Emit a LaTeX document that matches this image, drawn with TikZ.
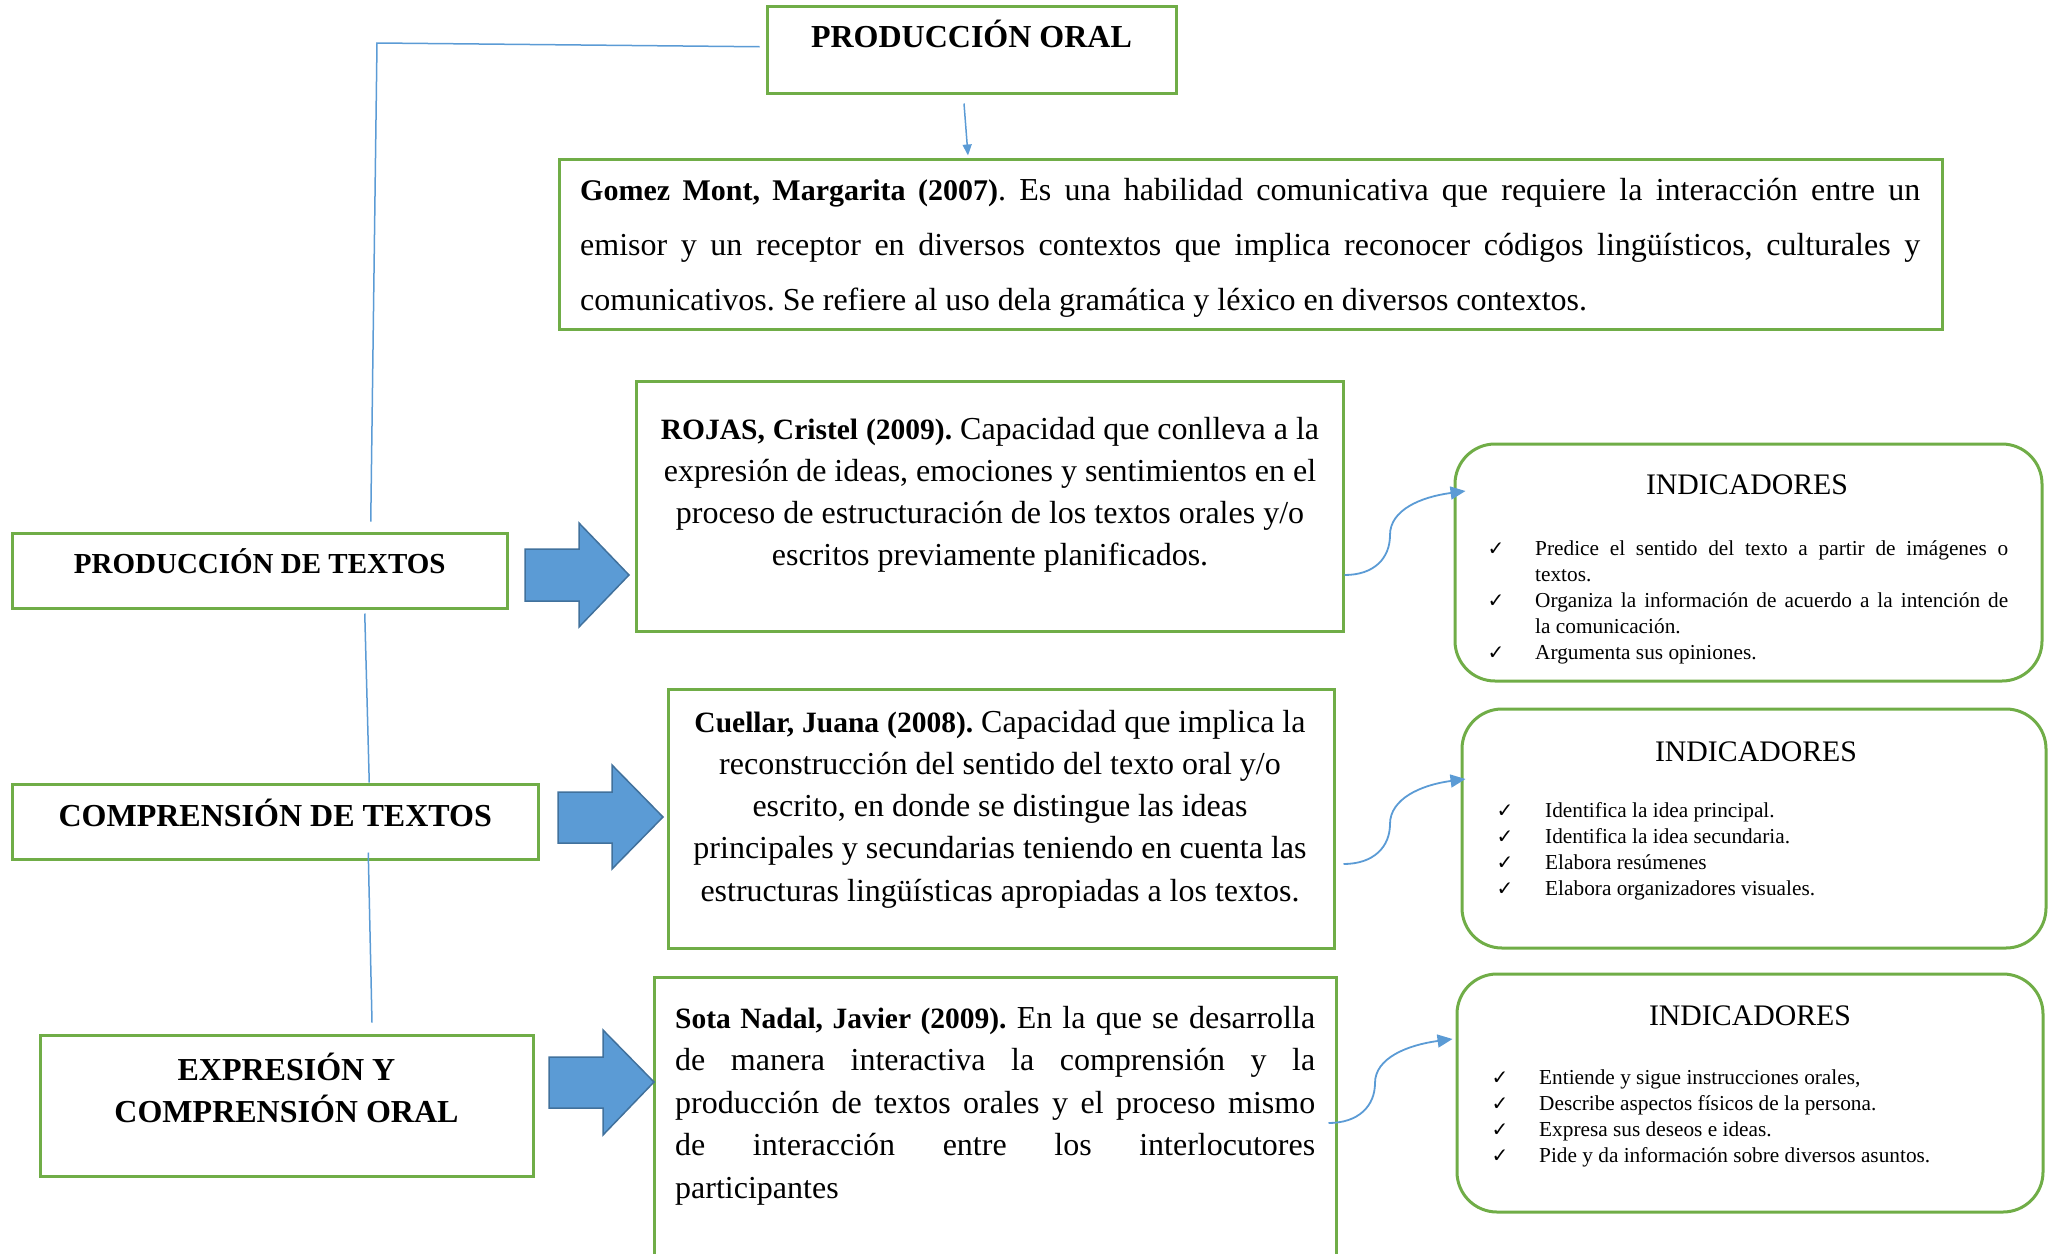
\documentclass[tikz,border=0pt]{standalone}
\usepackage{fontspec}
\setmainfont{Liberation Serif}
\newfontfamily\ckfont{DejaVu Sans}
\usetikzlibrary{arrows.meta}
\definecolor{grn}{HTML}{70AD47}
\definecolor{blu}{HTML}{5B9BD5}
\definecolor{bluedge}{HTML}{41719C}
\newcommand\resetsp{\spaceskip=0pt\xspaceskip=0pt\frenchspacing}
\newcommand\rigidsp{\spaceskip=\fontdimen2\font\xspaceskip=\fontdimen2\font\frenchspacing}
\newcommand\citebold[1]{{\fontsize{29.5}{42}\selectfont\bfseries #1}}
\tikzset{
  frame/.style={draw=grn, line width=3pt, inner sep=0pt},
  rbox/.style={frame, rounded corners=40pt},
  conn/.style={draw=blu, line width=1.5pt},
  curv/.style={draw=blu, line width=1.8pt, -{Triangle[length=15pt,width=13pt]}},
  blockarrow/.style={fill=blu, draw=bluedge, line width=1.5pt, line join=miter},
  title/.style={inner sep=0pt, anchor=base},
  body/.style={inner sep=0pt, anchor=base, font=\fontsize{32}{42.3}\selectfont},
  listtxt/.style={inner sep=0pt, anchor=base west, align=left, font=\fontsize{21.3}{26}\selectfont},
  ck/.style={inner sep=0pt, anchor=base, font=\ckfont\fontsize{20}{20}\selectfont},
  indt/.style={inner sep=0pt, anchor=base, font=\fontsize{29.8}{36}\selectfont}
}
\begin{document}
\begin{tikzpicture}[x=1pt,y=-1pt]
\useasboundingbox (0,0) rectangle (2048,1253);

% ---- frames ----
\node[frame, minimum width=409pt, minimum height=86.5pt] (po) at (971.5,49.75) {};
\node[frame, minimum width=1383pt, minimum height=170pt] (gomez) at (1250.5,244) {};
\node[frame, minimum width=494.5pt, minimum height=75pt] (pt) at (259.75,570.5) {};
\node[frame, minimum width=525.5pt, minimum height=75pt] (ct) at (275.25,821.5) {};
\node[frame, minimum width=493pt, minimum height=141pt] (ex) at (286.5,1105.5) {};
\node[frame, minimum width=707pt, minimum height=250pt] (rojas) at (989.5,506) {};
\node[frame, minimum width=666pt, minimum height=259pt] (cuellar) at (1001,818.5) {};
\node[frame, minimum width=682pt, minimum height=298pt] (sota) at (995,1126) {};
\node[rbox, minimum width=587pt, minimum height=237pt] (ind1) at (1748.5,562.5) {};
\node[rbox, minimum width=584pt, minimum height=239pt] (ind2) at (1754,828.5) {};
\node[rbox, minimum width=586pt, minimum height=238pt] (ind3) at (1750,1093) {};

% ---- titles ----
\node[title, font=\fontsize{32}{40}\selectfont\bfseries] (potxt) at (971.5,47) {PRODUCCIÓN ORAL};
\node[title, font=\fontsize{29}{35}\selectfont\bfseries] (pttxt) at (259.75,573) {PRODUCCIÓN DE TEXTOS};
\node[title, font=\fontsize{32}{40}\selectfont\bfseries] (cttxt) at (275.25,826) {COMPRENSIÓN DE TEXTOS};
\node[title, align=center, text width=480pt, font=\fontsize{32}{42}\selectfont\bfseries] (extxt) at (286.5,1080) {\rigidsp EXPRESIÓN Y\\COMPRENSIÓN ORAL};

% ---- body texts ----
\node[body, anchor=base west, text width=1340pt, align=left, font=\fontsize{32}{55}\selectfont] (gomeztxt) at (580,200)
 {\resetsp\makebox[\linewidth][s]{{\fontsize{30}{42}\selectfont\bfseries Gomez Mont, Margarita (2007)}. Es una habilidad comunicativa que requiere la interacción entre un}\\
  \makebox[\linewidth][s]{emisor y un receptor en diversos contextos que implica reconocer códigos lingüísticos, culturales y}\\
  comunicativos. Se refiere al uso dela gramática y léxico en diversos contextos.};

\node[body, align=center, text width=720pt] (rojastxt) at (990,439)
 {\rigidsp\citebold{ROJAS, Cristel (2009).} Capacidad que conlleva a la\\
  expresión de ideas, emociones y sentimientos en el\\
  proceso de estructuración de los textos orales y/o\\
  escritos previamente planificados.};

\node[body, align=center, text width=660pt] (cuellartxt) at (1000,732)
 {\rigidsp\citebold{Cuellar, Juana (2008).} Capacidad que implica la\\
  reconstrucción del sentido del texto oral y/o\\
  escrito, en donde se distingue las ideas\\
  principales y secundarias teniendo en cuenta las\\
  estructuras lingüísticas apropiadas a los textos.};

\node[body, anchor=base west, text width=640pt, align=left, font=\fontsize{32}{42.5}\selectfont] (sotatxt) at (675,1028)
 {\resetsp\makebox[\linewidth][s]{\citebold{Sota Nadal, Javier (2009).} En la que se desarrolla}\\
  \makebox[\linewidth][s]{de manera interactiva la comprensión y la}\\
  \makebox[\linewidth][s]{producción de textos orales y el proceso mismo}\\
  \makebox[\linewidth][s]{de interacción entre los interlocutores}\\
  participantes};

% ---- indicadores ----
\node[indt] (ind1t) at (1747,494) {INDICADORES};
\node[listtxt, text width=473pt] (ind1l) at (1535,555)
 {\resetsp\makebox[\linewidth][s]{Predice el sentido del texto a partir de imágenes o}\\
  textos.\\
  \makebox[\linewidth][s]{Organiza la información de acuerdo a la intención de}\\
  la comunicación.\\
  Argumenta sus opiniones.};
\node[ck] (c11) at (1496,555) {✓};
\node[ck] (c12) at (1496,607) {✓};
\node[ck] (c13) at (1496,659) {✓};

\node[indt] (ind2t) at (1756,761) {INDICADORES};
\node[listtxt, text width=480pt] (ind2l) at (1545,817)
 {\resetsp Identifica la idea principal.\\
  Identifica la idea secundaria.\\
  Elabora resúmenes\\
  Elabora organizadores visuales.};
\node[ck] (c21) at (1505,817) {✓};
\node[ck] (c22) at (1505,843) {✓};
\node[ck] (c23) at (1505,869) {✓};
\node[ck] (c24) at (1505,895) {✓};

\node[indt] (ind3t) at (1750,1025) {INDICADORES};
\node[listtxt, text width=480pt] (ind3l) at (1539,1084)
 {\resetsp Entiende y sigue instrucciones orales,\\
  Describe aspectos físicos de la persona.\\
  Expresa sus deseos e ideas.\\
  Pide y da información sobre diversos asuntos.};
\node[ck] (c31) at (1500,1084) {✓};
\node[ck] (c32) at (1500,1110) {✓};
\node[ck] (c33) at (1500,1136) {✓};
\node[ck] (c34) at (1500,1162) {✓};

% ---- connectors ----
\coordinate (corner) at (377,43);
\draw[conn] ([xshift=-6pt,yshift=3pt]po.west) -- (corner) -- ([xshift=111pt,yshift=10pt]pt.north);
\draw[conn] ([xshift=105pt,yshift=-4pt]pt.south) -- ([xshift=94pt]ct.north);
\draw[conn] ([xshift=93pt,yshift=8pt]ct.south) -- ([xshift=85.5pt,yshift=11pt]ex.north);
\draw[conn, -{Triangle[length=11pt,width=9pt]}] ([xshift=-7.5pt,yshift=-9pt]po.south) -- ([xshift=-282.5pt,yshift=2pt]gomez.north);

\draw[curv] ([yshift=-69pt]rojas.east) .. controls +(30,0) and +(0,23) .. (1390,535)
  .. controls +(0,-25) and +(-45,6) .. ([xshift=12pt,yshift=71.5pt]ind1.west);
\draw[curv] ([xshift=8pt,yshift=-45.5pt]cuellar.east) .. controls +(30,0) and +(0,23) .. (1390,824)
  .. controls +(0,-25) and +(-45,6) .. ([xshift=5pt,yshift=49.5pt]ind2.west);
\draw[curv] ([xshift=-9pt,yshift=3pt]sota.east) .. controls +(30,0) and +(0,23) .. (1375,1083)
  .. controls +(0,-25) and +(-45,6) .. ([xshift=-3pt,yshift=54pt]ind3.west);

% ---- block arrows ----
\draw[blockarrow] (525,549) -- (579,549) -- (579,523) -- (629,575) -- (579,627) -- (579,601) -- (525,601) -- cycle;
\draw[blockarrow] (558,792) -- (612,792) -- (612,765) -- (663,817) -- (612,869) -- (612,843) -- (558,843) -- cycle;
\draw[blockarrow] (549,1057) -- (603,1057) -- (603,1030) -- (654,1082) -- (603,1135) -- (603,1108) -- (549,1108) -- cycle;
\end{tikzpicture}
\end{document}
